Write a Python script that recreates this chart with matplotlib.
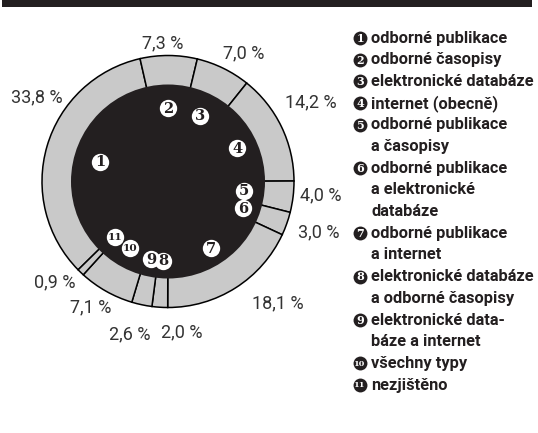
import numpy as np
import matplotlib.pyplot as plt
from matplotlib.patches import Circle, Rectangle

# data (clockwise order, starting with item 1)
shares = [33.8, 7.3, 7.0, 14.2, 4.0, 3.0, 18.1, 2.0, 2.6, 7.1, 0.9]
share_labels = ["33,8 %", "7,3 %", "7,0 %", "14,2 %", "4,0 %", "3,0 %",
                "18,1 %", "2,0 %", "2,6 %", "7,1 %", "0,9 %"]
numbers = ["1", "2", "3", "4", "5", "6", "7", "8", "9", "10", "11"]
legend_items = [
    ["odborné publikace"],
    ["odborné časopisy"],
    ["elektronické databáze"],
    ["internet (obecně)"],
    ["odborné publikace", "a časopisy"],
    ["odborné publikace", "a elektronické", "databáze"],
    ["odborné publikace", "a internet"],
    ["elektronické databáze", "a odborné časopisy"],
    ["elektronické data-", "báze a internet"],
    ["všechny typy"],
    ["nezjištěno"],
]

# layout (pixels)
W, H = 538, 433
CX, CY = 168, H - 181.5
R_OUT, R_IN = 126, 97
BLACK = "#231f20"
GRAY = "#c9c9c9"
FONT = ["Roboto", "DejaVu Sans"]

# percent label offsets in units of the outer radius
label_pos = [(-1.04, 0.67), (-0.04, 1.10), (0.60, 1.02), (1.13, 0.63),
             (1.21, -0.11), (1.20, -0.40), (0.87, -0.97), (0.11, -1.20),
             (-0.30, -1.21), (-0.61, -1.00), (-0.90, -0.80)]
# radial position of the numbered markers (units of outer radius)
marker_r = [0.56, 0.58, 0.58, 0.61, 0.61, 0.63, 0.63, 0.63, 0.63, 0.61, 0.61]

fig = plt.figure(figsize=(W / 100, H / 100), dpi=100)
ax = fig.add_axes([0, 0, 1, 1])

# ring
wedges, _ = ax.pie(shares, radius=R_OUT, center=(CX, CY), startangle=224.5,
                   counterclock=False, frame=True,
                   wedgeprops=dict(width=R_OUT - R_IN + 2, facecolor=GRAY,
                                   edgecolor="black", linewidth=1.1))
ax.set_xlim(0, W)
ax.set_ylim(0, H)
ax.set_aspect("equal")
ax.axis("off")
ax.add_patch(Circle((CX, CY), R_IN, facecolor=BLACK, edgecolor="none", zorder=3))

# top bar
ax.add_patch(Rectangle((2, H - 7), 530, 7, facecolor=BLACK, edgecolor="none"))


def num_size(n, base):
    return base if len(n) == 1 else base * 0.72


# white numbered markers inside, percent labels outside
for w, n, rr, lab, (lx, ly) in zip(wedges, numbers, marker_r, share_labels, label_pos):
    mid = np.deg2rad((w.theta1 + w.theta2) / 2)
    x = CX + rr * R_OUT * np.cos(mid)
    y = CY + rr * R_OUT * np.sin(mid)
    ax.plot(x, y, "o", ms=12.5, mfc="white", mec="none", zorder=4)
    ax.text(x, y - 0.5, n, color=BLACK, fontsize=num_size(n, 10.5),
            fontweight="bold", family="DejaVu Serif",
            ha="center", va="center", zorder=5)
    ax.text(CX + lx * R_OUT, CY + ly * R_OUT, lab, color="#333333",
            fontsize=13, ha="center", va="center", family=FONT)

# legend
y = H - 38
step = 21.7
for n, lines in zip(numbers, legend_items):
    ax.plot(360, y, "o", ms=10, mfc=BLACK, mec="none")
    ax.text(360, y - 0.3, n, fontsize=num_size(n, 8), fontweight="bold",
            family="DejaVu Serif", ha="center", va="center", color="white")
    for line in lines:
        ax.text(371, y, line, fontsize=11.8, fontweight="bold", ha="left",
                va="center", color=BLACK, family=FONT)
        y -= step

fig.savefig("out.png", dpi=100)
